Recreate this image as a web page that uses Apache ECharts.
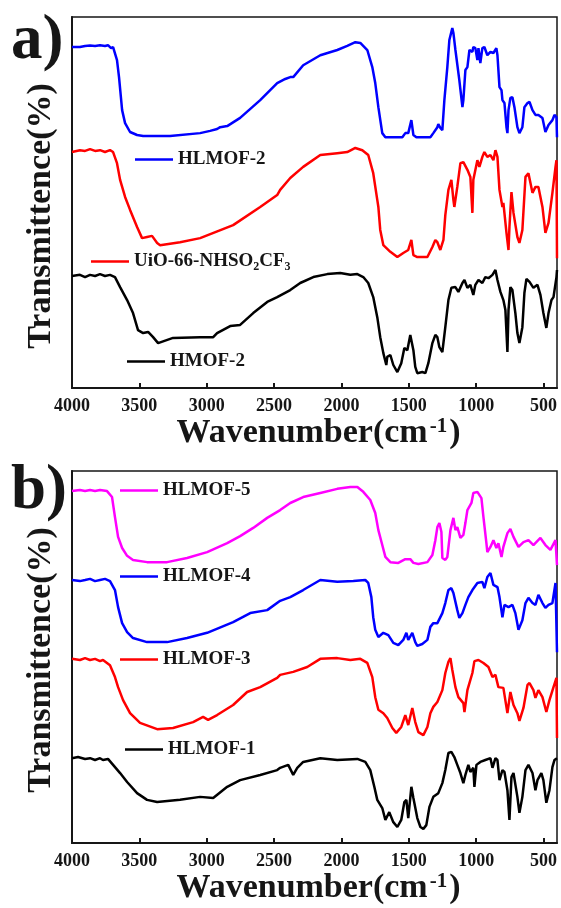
<!DOCTYPE html>
<html>
<head>
<meta charset="utf-8">
<title>FT-IR spectra</title>
<script src="https://cdn.jsdelivr.net/npm/echarts@6/dist/echarts.min.js"></script>
<style>
  html, body { margin: 0; padding: 0; background: #fff; }
  #chart { width: 561px; height: 908px; }
</style>
</head>
<body>
<div id="chart"></div>
<script>
// Wavenumber tick labels shared by both panels
const xTicks = [4000, 3500, 3000, 2500, 2000, 1500, 1000, 500];

// Panel a) spectra: [wavenumber (cm-1), offset transmittance (a.u.)]
const hlmof2 = [[4000,91.9],[3941,91.9],[3903,92.2],[3866,92.3],[3829,92.2],[3792,92.4],[3755,92.2],[3733,92.4],[3710,91.6],[3695,91.9],[3666,88.4],[3651,83.8],[3628,74.9],[3606,71.4],[3569,69.0],[3517,68.2],[3472,67.9],[3272,67.9],[3049,68.7],[2975,69.3],[2923,69.8],[2900,70.3],[2848,70.6],[2752,72.8],[2603,77.6],[2477,82.2],[2417,83.3],[2380,83.8],[2358,83.8],[2284,87.0],[2157,89.7],[2031,91.1],[1957,92.2],[1897,93.2],[1860,93.0],[1808,91.1],[1771,86.5],[1749,82.2],[1726,75.7],[1697,68.7],[1674,67.6],[1548,67.6],[1526,68.7],[1504,68.7],[1481,72.2],[1466,68.2],[1444,67.6],[1340,67.6],[1318,68.7],[1288,70.3],[1281,71.1],[1266,70.1],[1251,69.5],[1236,77.6],[1214,86.5],[1199,93.8],[1177,97.0],[1169,95.7],[1154,91.1],[1140,90.6],[1125,83.0],[1102,75.7],[1095,77.6],[1080,85.7],[1065,86.5],[1050,91.1],[1028,90.6],[1021,91.9],[1006,91.6],[991,88.4],[983,91.6],[969,87.6],[954,91.6],[939,91.9],[917,89.7],[894,90.6],[872,90.3],[850,91.6],[842,89.7],[827,81.1],[812,80.3],[805,77.6],[790,76.8],[775,70.3],[768,68.7],[760,74.9],[746,78.2],[731,78.4],[716,75.7],[694,70.3],[679,68.7],[657,70.3],[642,75.7],[619,76.8],[604,77.1],[582,74.9],[560,73.6],[538,73.6],[508,72.8],[486,69.0],[463,70.9],[434,72.2],[419,73.6],[404,73.0],[400,67.6]];

const uio66 = [[4000,63.6],[3941,64.1],[3903,63.9],[3866,64.4],[3829,63.9],[3792,64.1],[3755,63.6],[3718,64.1],[3695,63.6],[3666,60.6],[3643,56.1],[3606,51.5],[3569,48.0],[3517,43.4],[3480,40.4],[3443,40.7],[3406,41.0],[3368,39.1],[3346,38.5],[3198,39.3],[3049,40.4],[2804,43.9],[2603,48.8],[2477,52.0],[2455,53.4],[2380,56.6],[2284,59.6],[2157,62.8],[2031,63.3],[1957,63.6],[1897,64.7],[1845,64.1],[1801,62.8],[1764,57.9],[1734,50.7],[1726,48.8],[1712,42.6],[1689,38.5],[1637,36.7],[1585,35.3],[1541,36.4],[1504,37.2],[1481,39.9],[1466,35.8],[1437,35.3],[1362,35.3],[1325,38.0],[1303,39.9],[1288,39.3],[1266,37.2],[1243,39.9],[1229,46.6],[1206,53.4],[1184,56.1],[1169,50.7],[1162,48.8],[1140,54.2],[1117,60.6],[1095,60.9],[1065,58.8],[1043,56.9],[1028,47.2],[1021,56.1],[991,61.4],[976,59.6],[954,62.3],[939,63.6],[917,62.3],[894,62.8],[872,61.4],[857,64.1],[842,62.3],[827,53.4],[805,48.8],[798,49.9],[775,41.8],[760,37.2],[753,43.4],[738,52.8],[723,47.2],[694,40.7],[679,39.1],[657,42.6],[634,56.9],[612,57.9],[582,52.6],[560,54.2],[538,54.2],[508,48.8],[486,41.8],[463,44.5],[434,52.6],[411,59.6],[404,61.4],[400,35.0]];

const hmof2 = [[4000,30.2],[3941,30.5],[3903,29.9],[3866,30.5],[3829,30.2],[3792,30.7],[3755,30.2],[3718,30.5],[3681,29.9],[3643,27.2],[3591,23.7],[3547,20.2],[3510,15.6],[3472,14.8],[3435,15.1],[3398,13.7],[3361,12.1],[3250,13.5],[3049,13.7],[2952,13.7],[2923,14.8],[2826,16.7],[2752,17.0],[2655,20.2],[2551,23.2],[2477,24.5],[2380,26.4],[2306,28.3],[2209,29.9],[2105,30.7],[2009,31.0],[1934,30.5],[1882,30.7],[1838,29.9],[1801,28.3],[1764,24.5],[1734,19.1],[1712,13.7],[1689,9.4],[1667,6.2],[1660,8.4],[1637,8.9],[1615,6.2],[1585,4.3],[1556,6.7],[1533,10.8],[1511,10.2],[1489,14.3],[1466,10.2],[1452,5.7],[1437,4.0],[1400,4.3],[1377,4.0],[1355,6.7],[1325,12.1],[1303,14.3],[1288,13.7],[1273,11.0],[1251,9.7],[1229,16.4],[1206,23.7],[1184,27.0],[1154,27.2],[1132,25.9],[1102,28.3],[1087,29.1],[1065,27.0],[1043,27.8],[1021,25.1],[1006,27.8],[983,29.1],[954,28.3],[932,29.9],[909,29.6],[879,30.5],[857,31.8],[842,29.1],[820,25.9],[798,23.7],[783,21.0],[768,9.7],[760,21.0],[746,27.2],[731,26.4],[709,20.2],[694,14.8],[679,12.1],[657,16.4],[642,25.6],[627,29.4],[604,28.6],[575,27.0],[545,27.8],[523,25.1],[501,20.2],[479,16.2],[463,20.2],[441,23.7],[426,24.5],[404,29.9],[400,31.8]];

// Panel b) spectra
const hlmof5 = [[4000,94.6],[3941,94.9],[3903,94.6],[3866,94.9],[3829,94.6],[3792,94.9],[3740,94.6],[3703,93.0],[3681,87.6],[3658,82.3],[3628,79.3],[3591,77.2],[3547,76.1],[3443,75.5],[3294,75.5],[3146,76.6],[2997,78.2],[2848,80.6],[2752,82.5],[2655,84.7],[2551,87.4],[2455,89.5],[2380,91.4],[2284,93.0],[2157,94.1],[2031,95.2],[1934,95.7],[1882,95.7],[1838,94.4],[1786,92.2],[1749,88.7],[1726,84.1],[1697,80.1],[1674,76.9],[1637,75.5],[1578,75.3],[1526,76.3],[1489,76.3],[1466,75.3],[1429,75.0],[1362,75.5],[1325,77.4],[1303,81.4],[1288,84.9],[1273,86.0],[1258,83.6],[1251,76.6],[1229,76.1],[1214,76.9],[1191,84.1],[1169,87.4],[1154,84.1],[1140,84.9],[1117,82.0],[1095,82.8],[1080,86.0],[1065,89.5],[1035,91.4],[1021,94.1],[991,94.4],[961,92.7],[946,87.6],[924,80.6],[917,78.2],[894,79.6],[872,81.4],[850,79.3],[835,80.6],[812,76.9],[798,79.6],[768,83.3],[746,84.4],[723,82.3],[686,79.6],[649,80.9],[612,81.4],[575,80.1],[523,82.0],[486,80.1],[449,78.8],[411,81.4],[400,74.7]];

const hlmof4 = [[4000,70.7],[3941,70.4],[3903,70.7],[3866,71.0],[3829,70.4],[3792,70.7],[3755,71.0],[3718,70.4],[3681,68.0],[3658,63.4],[3628,59.1],[3591,56.7],[3547,55.1],[3443,54.0],[3294,54.0],[3146,55.1],[2997,56.5],[2804,59.4],[2677,61.8],[2551,62.6],[2455,65.1],[2380,66.1],[2284,68.0],[2157,70.7],[2031,70.2],[1912,70.4],[1823,70.7],[1801,69.9],[1778,66.1],[1764,60.7],[1749,57.3],[1726,55.4],[1689,56.5],[1652,55.9],[1615,53.8],[1578,53.2],[1541,54.6],[1518,56.5],[1504,54.6],[1474,56.5],[1452,54.0],[1437,53.0],[1400,53.5],[1362,54.6],[1340,58.1],[1318,59.1],[1288,59.1],[1251,61.8],[1229,64.5],[1206,68.0],[1184,68.5],[1169,67.2],[1140,62.6],[1125,60.5],[1102,61.8],[1080,64.0],[1058,66.1],[1028,68.0],[991,69.9],[954,70.2],[939,68.5],[917,71.5],[894,72.6],[872,69.4],[842,68.8],[827,66.1],[805,60.7],[790,64.0],[760,63.4],[731,64.0],[709,61.8],[686,57.3],[657,59.9],[634,64.5],[612,65.9],[582,64.5],[560,64.0],[538,66.7],[508,64.5],[486,63.2],[463,64.0],[434,64.5],[411,69.9],[400,51.3]];

const hlmof3 = [[4000,49.5],[3941,49.2],[3903,49.7],[3866,49.2],[3829,49.5],[3792,48.9],[3770,49.2],[3718,47.8],[3681,44.6],[3658,41.9],[3621,38.4],[3569,34.9],[3495,32.3],[3368,30.6],[3250,30.9],[3101,32.5],[3027,33.9],[2990,33.1],[2923,34.4],[2804,37.1],[2700,40.6],[2603,41.9],[2477,44.4],[2455,45.2],[2358,46.0],[2254,47.3],[2157,49.5],[2031,49.7],[1934,49.2],[1860,49.5],[1808,48.4],[1771,44.6],[1749,39.2],[1726,35.8],[1689,34.9],[1660,33.6],[1622,30.9],[1593,29.6],[1556,31.2],[1526,34.4],[1504,31.7],[1474,36.3],[1452,32.5],[1429,29.8],[1392,29.0],[1362,31.2],[1340,34.9],[1318,36.6],[1288,37.9],[1251,41.1],[1229,45.7],[1206,48.7],[1191,49.7],[1177,46.5],[1154,41.9],[1132,39.2],[1095,37.6],[1087,35.2],[1065,41.1],[1050,43.0],[1028,45.7],[1013,48.9],[983,49.2],[946,48.4],[909,47.3],[879,44.6],[857,45.2],[835,41.9],[798,41.7],[768,34.9],[746,40.6],[723,37.1],[694,34.9],[679,32.8],[649,36.3],[619,42.5],[604,43.0],[575,41.1],[560,39.0],[538,41.1],[508,39.2],[479,35.2],[456,38.4],[426,41.9],[404,44.4],[400,28.2]];

const hlmof1 = [[4000,22.8],[3955,23.1],[3903,22.6],[3866,22.8],[3829,22.3],[3792,22.8],[3770,22.3],[3733,22.6],[3695,21.0],[3643,18.8],[3591,16.4],[3517,13.4],[3443,11.6],[3368,11.0],[3198,11.6],[3049,12.4],[2952,12.1],[2848,15.1],[2752,16.9],[2603,18.3],[2477,19.6],[2455,20.2],[2395,21.0],[2358,18.3],[2328,20.2],[2284,21.8],[2157,22.8],[2031,22.3],[1882,22.6],[1823,21.8],[1786,19.6],[1756,15.1],[1734,11.6],[1697,9.4],[1674,6.2],[1645,8.3],[1615,5.6],[1585,4.3],[1556,6.2],[1533,11.0],[1518,11.6],[1504,6.7],[1481,15.1],[1466,12.1],[1437,6.7],[1414,4.3],[1392,3.8],[1370,4.8],[1347,9.7],[1318,12.4],[1281,13.4],[1251,16.1],[1229,19.6],[1206,24.2],[1184,24.5],[1162,23.1],[1140,21.0],[1117,18.8],[1095,16.1],[1080,18.3],[1058,21.0],[1043,19.1],[1021,20.2],[1013,15.1],[998,21.0],[969,21.8],[932,22.3],[894,22.8],[879,20.2],[857,22.8],[842,22.3],[827,16.9],[805,19.6],[790,19.1],[768,14.2],[753,6.2],[738,17.7],[723,18.8],[694,12.4],[679,8.1],[657,12.4],[634,19.6],[612,21.0],[582,18.8],[560,14.2],[545,16.9],[516,18.8],[501,16.9],[479,10.8],[456,14.2],[434,20.4],[419,22.3],[400,22.8]];

const SERIF = '"Liberation Serif", "Times New Roman", serif';
const INK = '#161616';

const chart = echarts.init(document.getElementById('chart'), null, { renderer: 'canvas' });

function xAxisFor(gridIndex) {
  return {
    gridIndex, type: 'value', inverse: true, min: 400, max: 4000,
    name: 'Wavenumber(cm{sup|-1})',
    nameLocation: 'middle', nameGap: 24,
    nameTextStyle: {
      fontFamily: SERIF, fontWeight: 'bold', fontSize: 34, color: INK,
      padding: [0, 0, 0, 8],
      rich: { sup: { fontFamily: SERIF, fontWeight: 'bold', fontSize: 21, color: INK, verticalAlign: 'top', padding: [0, 2, 14, 2] } }
    },
    axisLine: { show: true, lineStyle: { color: INK, width: 2 } },
    axisTick: { show: true, inside: true, length: 5, customValues: xTicks, lineStyle: { color: INK, width: 2 } },
    axisLabel: {
      show: true, customValues: xTicks, margin: 9,
      formatter: (v) => String(v),
      fontFamily: SERIF, fontWeight: 'bold', fontSize: 18, color: INK
    },
    splitLine: { show: false }
  };
}

function yAxisFor(gridIndex) {
  return {
    gridIndex, type: 'value', min: 0, max: 100,
    axisLine: { show: true, lineStyle: { color: INK, width: 2 } },
    axisTick: { show: false },
    axisLabel: { show: false },
    splitLine: { show: false }
  };
}

function spectrum(name, data, color, axisIndex) {
  return {
    name, type: 'line', data, xAxisIndex: axisIndex, yAxisIndex: axisIndex,
    showSymbol: false, symbol: 'none', smooth: false, animation: false,
    lineStyle: { color, width: 2.5 }, itemStyle: { color },
    clip: true
  };
}

function legendAt(name, left, top, extra) {
  return Object.assign({
    data: [name], left, top, orient: 'horizontal', selectedMode: false,
    icon: 'rect', itemWidth: 38, itemHeight: 2.5, padding: 0,
    textStyle: { fontFamily: SERIF, fontWeight: 'bold', fontSize: 19, color: INK }
  }, extra || {});
}

// Rotated y-axis caption and panel letters
function yCaption(cx, cy) {
  return {
    type: 'text', x: cx, y: cy, rotation: Math.PI / 2,
    style: { text: 'Transmittence(%)', font: 'bold 34px ' + SERIF, fill: INK, align: 'center', verticalAlign: 'middle' }
  };
}
function panelTag(label, x, top) {
  return {
    type: 'text', x, y: top,
    style: { text: label, font: 'bold 63px ' + SERIF, fill: INK, align: 'left', verticalAlign: 'top' }
  };
}

chart.setOption({
  backgroundColor: '#ffffff',
  animation: false,
  grid: [
    { left: 72, right: 4, top: 17, height: 371, show: true, borderColor: INK, borderWidth: 1.5, backgroundColor: 'transparent' },
    { left: 72, right: 4, top: 471, height: 372, show: true, borderColor: INK, borderWidth: 1.5, backgroundColor: 'transparent' }
  ],
  xAxis: [xAxisFor(0), xAxisFor(1)],
  yAxis: [yAxisFor(0), yAxisFor(1)],
  legend: [
    legendAt('HLMOF-2', 135, 150),
    legendAt('UiO-66-NHSO2CF3', 91, 252, {
      formatter: () => 'UiO-66-NHSO{sub|2}CF{sub|3}',
      textStyle: {
        fontFamily: SERIF, fontWeight: 'bold', fontSize: 19, color: INK,
        rich: { sub: { fontFamily: SERIF, fontWeight: 'bold', fontSize: 12, color: INK, verticalAlign: 'bottom', padding: [10, 0, 0, 0] } }
      }
    }),
    legendAt('HMOF-2', 127, 352),
    legendAt('HLMOF-5', 120, 481),
    legendAt('HLMOF-4', 120, 567),
    legendAt('HLMOF-3', 120, 650),
    legendAt('HLMOF-1', 125, 740)
  ],
  graphic: [
    yCaption(41, 216),
    yCaption(41, 660),
    panelTag('a)', 11, 10),
    panelTag('b)', 11, 460)
  ],
  series: [
    spectrum('HLMOF-2', hlmof2, '#0000ff', 0),
    spectrum('UiO-66-NHSO2CF3', uio66, '#ff0000', 0),
    spectrum('HMOF-2', hmof2, '#000000', 0),
    spectrum('HLMOF-5', hlmof5, '#ff00ff', 1),
    spectrum('HLMOF-4', hlmof4, '#0000ff', 1),
    spectrum('HLMOF-3', hlmof3, '#ff0000', 1),
    spectrum('HLMOF-1', hlmof1, '#000000', 1)
  ]
});
</script>
</body>
</html>
